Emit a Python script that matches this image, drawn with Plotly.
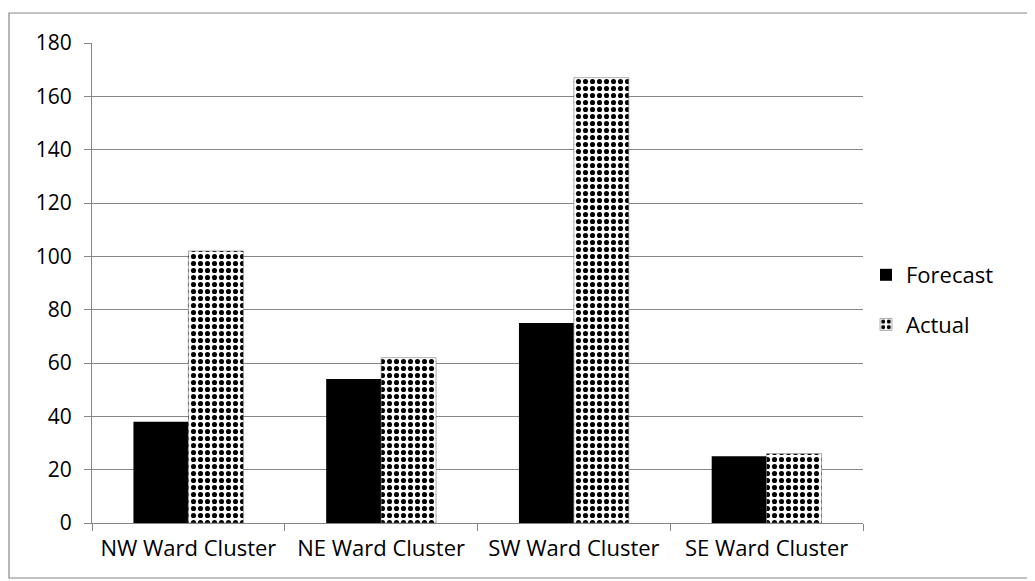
import plotly.graph_objects as go

categories = ["NW Ward Cluster", "NE Ward Cluster", "SW Ward Cluster", "SE Ward Cluster"]
forecast = [38, 54, 75, 25]
actual = [102, 62, 167, 26]
y_ticks = [0, 20, 40, 60, 80, 100, 120, 140, 160, 180]

FONT = "Open Sans"
GRID = "#868686"
FS = 22

# page body offset of the browser (default 8px margin); shrink figure so the page does not overflow
OX, OY = 8, 8
W, H = 1035 - OX, 581 - OY

# target pixel positions (page coords) of the plot area
PL, PR, PT, PB = 92, 863, 43, 523
L = PL - OX
T = PT - OY
R = W - (PR - OX)
B = H - (PB - OY)
pw, ph = PR - PL, PB - PT

fig = go.Figure()
fig.add_trace(go.Bar(
    name="Forecast", x=categories, y=forecast, legendgroup="f",
    marker=dict(color="black", line=dict(width=0)),
))
fig.add_trace(go.Bar(
    name="Actual", x=categories, y=actual, legendgroup="a",
    marker=dict(color="white", line=dict(width=0.6, color="#777"),
                pattern=dict(shape=".", fgcolor="black", bgcolor="white", fgopacity=1,
                             size=7, solidity=0.42, fillmode="replace")),
))

fig.update_layout(
    width=W, height=H,
    margin=dict(l=L, r=R, t=T, b=B, pad=0),
    paper_bgcolor="white", plot_bgcolor="white",
    barmode="group", bargap=0.43, bargroupgap=0,
    font=dict(family=FONT, size=FS, color="black"),
    legend=dict(x=(866 - PL) / pw, y=(PB - 300) / ph, xanchor="left", yanchor="middle",
                traceorder="grouped", tracegroupgap=18, itemwidth=30,
                font=dict(family=FONT, size=FS)),
    xaxis=dict(showgrid=False, showline=True, linecolor=GRID, linewidth=1,
               ticks="outside", tickson="boundaries", ticklen=7, tickcolor=GRID,
               ticklabelstandoff=6, tickangle=0, automargin=False,
               tickfont=dict(size=FS)),
    yaxis=dict(range=[0, 180], tickvals=y_ticks, showgrid=True, gridcolor=GRID, gridwidth=1,
               showline=True, linecolor=GRID, linewidth=1, ticks="outside", ticklen=7,
               tickcolor=GRID, zeroline=False, ticklabelstandoff=8, automargin=False,
               tickfont=dict(size=21)),
    shapes=[dict(type="rect", xref="paper", yref="paper",
                 x0=(9 - PL) / pw, x1=(1045 - PL) / pw,
                 y0=(PB - 578) / ph, y1=(PB - 13) / ph,
                 line=dict(color=GRID, width=1.2), layer="below")],
)

fig.write_html("out.html")
